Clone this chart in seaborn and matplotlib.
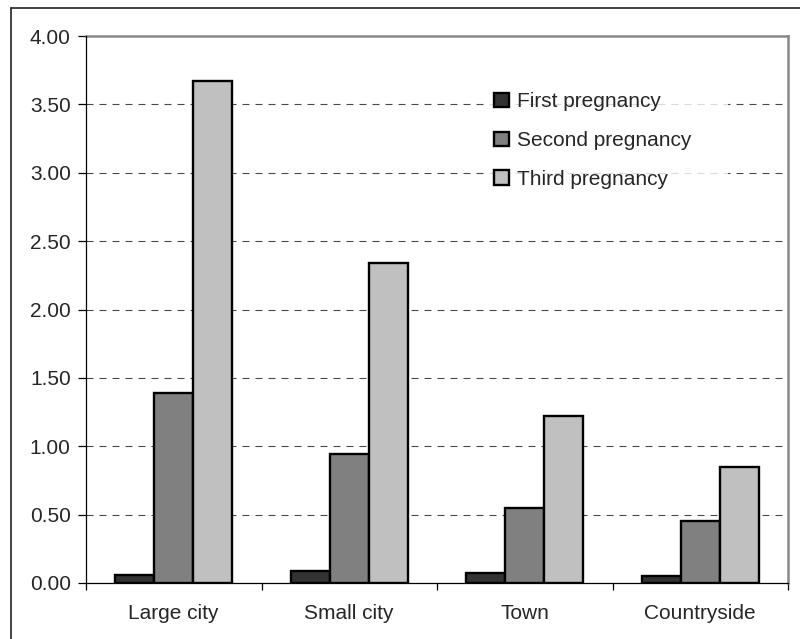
import matplotlib
matplotlib.use("Agg")
import matplotlib.pyplot as plt
from matplotlib.lines import Line2D
from matplotlib.patches import Patch
import numpy as np
import pandas as pd
import seaborn as sns

categories = ["Large city", "Small city", "Town", "Countryside"]
series = ["First pregnancy", "Second pregnancy", "Third pregnancy"]
first_pregnancy = [0.06, 0.09, 0.07, 0.05]
second_pregnancy = [1.39, 0.94, 0.55, 0.45]
third_pregnancy = [3.67, 2.34, 1.22, 0.85]
y_ticks = [0.0, 0.5, 1.0, 1.5, 2.0, 2.5, 3.0, 3.5, 4.0]
colors = ["#333333", "#808080", "#C0C0C0"]

df = pd.DataFrame({
    "area": categories * 3,
    "series": [series[0]] * 4 + [series[1]] * 4 + [series[2]] * 4,
    "value": first_pregnancy + second_pregnancy + third_pregnancy,
})

sns.set_style("white")
plt.rcParams["font.family"] = ["Liberation Sans", "DejaVu Sans"]
FS = 15

W, H = 800, 639
fig = plt.figure(figsize=(W / 100, H / 100), dpi=100)
left, right, top, bottom = 86, 788, 36, 583
ax = fig.add_axes([left / W, 1 - bottom / H, (right - left) / W, (bottom - top) / H])

sns.barplot(data=df, x="area", y="value", hue="series", order=categories,
            hue_order=series, palette=colors, width=0.667, saturation=1,
            edgecolor="black", linewidth=1.7, ax=ax, legend=False, zorder=3)

ax.set_xlim(-0.5, 3.5)
ax.set_ylim(0, 4.0)
ax.set_yticks(y_ticks)
ax.set_yticklabels([f"{v:.2f}" for v in y_ticks])
ax.set_xlabel("")
ax.set_ylabel("")

# dashed horizontal gridlines (skip baseline and top frame)
for v in y_ticks[1:-1]:
    ax.axhline(v, color="#4a4a4a", linewidth=0.8,
               linestyle=(0, (6.3, 5.4)), zorder=1)

# spines: black left/bottom, gray top/right
for s in ["left", "bottom"]:
    ax.spines[s].set_color("black")
    ax.spines[s].set_linewidth(0.9)
    ax.spines[s].set_zorder(4)
for s in ["top", "right"]:
    ax.spines[s].set_color("#888888")
    ax.spines[s].set_linewidth(1.8)

ax.tick_params(axis="y", direction="out", length=6, width=0.9, color="black",
               labelsize=FS, pad=5, left=True)
ax.set_xticks(range(len(categories)))
ax.set_xticks(np.arange(-0.5, 4.0, 1.0), minor=True)
ax.tick_params(axis="x", which="major", length=0, labelsize=FS, pad=15)
ax.tick_params(axis="x", which="minor", direction="out", length=5, width=0.9,
               color="black", bottom=True)

# legend box: fixed-width white panel over the gridlines
lx0, lx1, ly0 = 486, 728, 84
to_ax_x = lambda px: (px - left) / (right - left)
to_ax_y = lambda py: (bottom - py) / (bottom - top)
handles = [Patch(facecolor=c, edgecolor="black", linewidth=1.7) for c in colors]
leg = ax.legend(handles, series, loc="upper left", mode="expand",
                bbox_to_anchor=(to_ax_x(lx0), to_ax_y(ly0) - 0.3,
                                to_ax_x(lx1) - to_ax_x(lx0), 0.3),
                frameon=True, fontsize=FS, handlelength=0.7, handleheight=0.7,
                handletextpad=0.4, labelspacing=0.95, borderpad=0.4,
                borderaxespad=0)
leg.get_frame().set_facecolor("white")
leg.get_frame().set_edgecolor("white")
leg.get_frame().set_linewidth(0)
leg.set_zorder(5)

# outer chart border
fig.add_artist(Line2D([11 / W, 11 / W], [0, 1 - 8 / H], color="#222222",
                      linewidth=1.2, transform=fig.transFigure))
fig.add_artist(Line2D([11 / W, 1], [1 - 8 / H, 1 - 8 / H], color="#222222",
                      linewidth=1.2, transform=fig.transFigure))

fig.savefig("out.png", dpi=100)
